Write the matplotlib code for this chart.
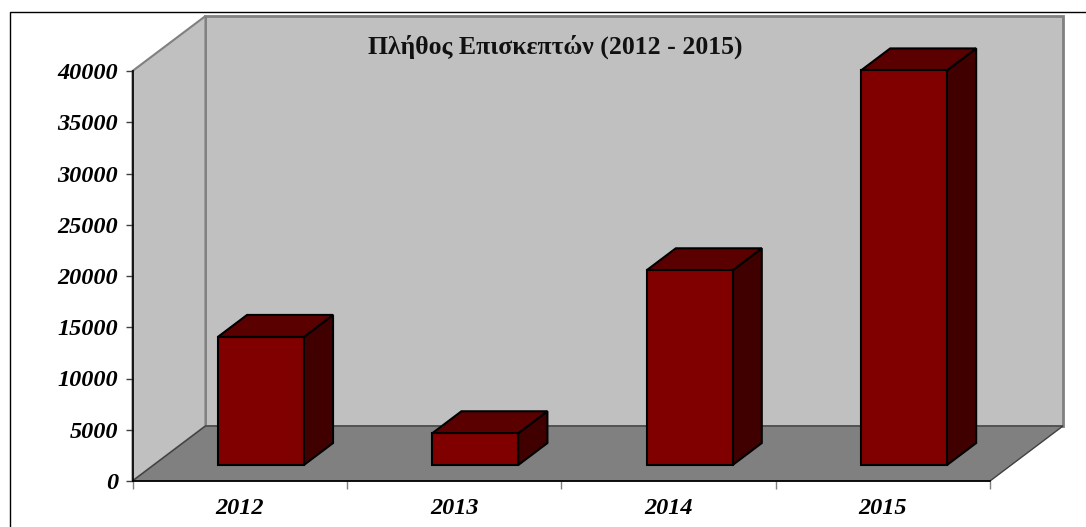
#!/usr/bin/env python3
"""Pseudo-3D column chart, visitors per year"""

import matplotlib.pyplot as plt
from matplotlib.patches import Polygon, Rectangle

years = ['2012', '2013', '2014', '2015']
visitors = [12500, 3100, 19000, 38500]
y_ticks = [0, 5000, 10000, 15000, 20000, 25000, 30000, 35000, 40000]
title = 'Πλήθος Επισκεπτών (2012 - 2015)'

# 3D look, in data units
DX = 0.3405      # depth of the box along x (categories)
DY = 5366        # depth of the box along y (visitors)
BAR_W = 0.401
BAR_START = 0.29 # where the bar sits in the depth of the box
BAR_DEPTH = 0.40
YMAX = 40000

W, H = 1086, 527
fig = plt.figure(figsize=(W / 100, H / 100), dpi=100)
ax = fig.add_axes([132.5 / W, (H - 481) / H, 857.5 / W, 410 / H])
ax.set_xlim(0, len(years))
ax.set_ylim(0, YMAX)
ax.patch.set_visible(False)

# outer frame, cut off on the right and at the bottom
fig.add_artist(Rectangle((10 / W, -0.1), 1.2, 0.1 + (H - 12) / H, transform=fig.transFigure,
                         fill=False, edgecolor='black', linewidth=1.0))


def poly(points, face, edge, lw, z):
    ax.add_patch(Polygon(points, closed=True, facecolor=face, edgecolor=edge,
                         linewidth=lw, clip_on=False, zorder=z, joinstyle='miter'))


n = len(years)
# walls and floor
poly([(DX, DY), (DX + n, DY), (DX + n, DY + YMAX), (DX, DY + YMAX)], '#c0c0c0', '#808080', 2, 1)
poly([(0, 0), (DX, DY), (DX, DY + YMAX), (0, YMAX)], '#c0c0c0', '#808080', 1.5, 1)
poly([(0, 0), (n, 0), (n + DX, DY), (DX, DY)], '#808080', '#404040', 1, 2)

# bars
sx = DX * BAR_START
sy = DY * BAR_START
bx = DX * BAR_DEPTH
by = DY * BAR_DEPTH
for i, v in enumerate(visitors):
    x0 = i + 0.5 - BAR_W / 2 + sx
    x1 = x0 + BAR_W
    y0 = sy
    y1 = sy + v
    z = 3 + i
    poly([(x1, y0), (x1 + bx, y0 + by), (x1 + bx, y1 + by), (x1, y1)], '#400000', 'black', 1.5, z)
    poly([(x0, y1), (x1, y1), (x1 + bx, y1 + by), (x0 + bx, y1 + by)], '#5a0000', 'black', 1.5, z)
    poly([(x0, y0), (x1, y0), (x1, y1), (x0, y1)], '#800000', 'black', 1.5, z)

for name, spine in ax.spines.items():
    spine.set_visible(name in ('left', 'bottom'))
    spine.set_linewidth(1.2)
    spine.set_zorder(3)

font = dict(family='Liberation Serif', fontweight='bold', fontstyle='italic', fontsize=17.5)
ax.set_yticks(y_ticks)
ax.set_yticklabels([str(t) for t in y_ticks], **font)
ax.tick_params(axis='y', length=5, width=1.0, pad=5.5, color='#404040')
ax.set_xticks(range(n + 1))
ax.set_xticklabels([''] * (n + 1))
ax.tick_params(axis='x', length=6, width=1.0, color='#808080')

# year labels sit between the ticks
for i, y in enumerate(years):
    ax.annotate(y, (i + 0.5, 0), xytext=(0, -19.5), textcoords='offset points',
                ha='center', va='center', **font)

fig.text(555.5 / W, (H - 47) / H, title, ha='center', va='center', color='#111111',
         family='Liberation Serif', fontweight='bold', fontsize=18.5)

fig.savefig('out.png', dpi=100)
